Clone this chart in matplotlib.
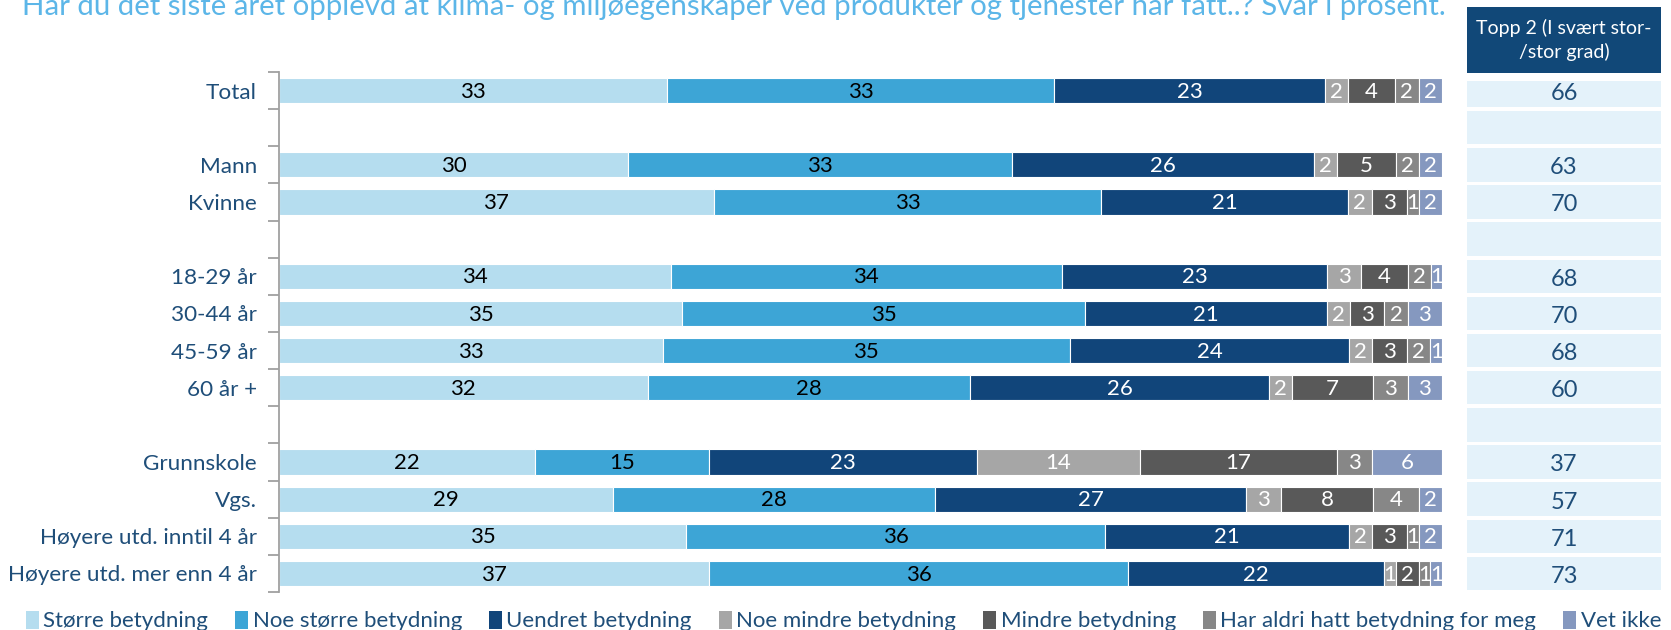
import matplotlib
matplotlib.use("Agg")
import matplotlib.pyplot as plt
from matplotlib.patches import Rectangle, Patch
import numpy as np

plt.rcParams['font.family'] = ['Lato', 'DejaVu Sans']

title = "Har du det siste året opplevd at klima- og miljøegenskaper ved produkter og tjenester har fått..? Svar i prosent."
series = ["Større betydning", "Noe større betydning", "Uendret betydning", "Noe mindre betydning",
          "Mindre betydning", "Har aldri hatt betydning for meg", "Vet ikke"]
colors = ["#B5DDEF", "#3DA5D6", "#11457A", "#A6A6A6", "#595959", "#878787", "#8598BF"]
label_colors = ["black", "black", "white", "white", "white", "white", "white"]

# groups of categories (a blank row separates groups)
groups = [
    ["Total"],
    ["Mann", "Kvinne"],
    ["18-29 år", "30-44 år", "45-59 år", "60 år +"],
    ["Grunnskole", "Vgs.", "Høyere utd. inntil 4 år", "Høyere utd. mer enn 4 år"],
]
values = {
    "Total":                    [33, 33, 23, 2, 4, 2, 2],
    "Mann":                     [30, 33, 26, 2, 5, 2, 2],
    "Kvinne":                   [37, 33, 21, 2, 3, 1, 2],
    "18-29 år":                 [34, 34, 23, 3, 4, 2, 1],
    "30-44 år":                 [35, 35, 21, 2, 3, 2, 3],
    "45-59 år":                 [33, 35, 24, 2, 3, 2, 1],
    "60 år +":                  [32, 28, 26, 2, 7, 3, 3],
    "Grunnskole":               [22, 15, 23, 14, 17, 3, 6],
    "Vgs.":                     [29, 28, 27, 3, 8, 4, 2],
    "Høyere utd. inntil 4 år":  [35, 36, 21, 2, 3, 1, 2],
    "Høyere utd. mer enn 4 år": [37, 36, 22, 1, 2, 1, 1],
}
top2 = {
    "Total": 66, "Mann": 63, "Kvinne": 70, "18-29 år": 68, "30-44 år": 70,
    "45-59 år": 68, "60 år +": 60, "Grunnskole": 37, "Vgs.": 57,
    "Høyere utd. inntil 4 år": 71, "Høyere utd. mer enn 4 år": 73,
}
top2_header = "Topp 2 (I svært stor-\n/stor grad)"

# build row list with blank separators
rows = []
for gi, g in enumerate(groups):
    if gi > 0:
        rows.append("")
    rows.extend(g)
n = len(rows)
ypos = np.arange(n)

text_blue = "#1F4E79"

fig = plt.figure(figsize=(16.71, 6.30), dpi=100)
ax = fig.add_axes([0.167, 0.0603, 0.696, 0.8254])

for yi, cat in enumerate(rows):
    if not cat:
        continue
    vals = np.array(values[cat], dtype=float)
    widths = vals / vals.sum() * 100
    left = 0.0
    for si, (w, v) in enumerate(zip(widths, vals)):
        ax.barh(yi, w, left=left, height=0.68, color=colors[si], edgecolor="white", linewidth=0.8)
        ax.text(left + w / 2, yi + 0.03, f"{int(v)}", ha="center", va="center",
                color=label_colors[si], fontsize=16)
        left += w

ax.set_xlim(0, 100)
ax.set_ylim(n - 0.5, -0.5)
ax.set_yticks(ypos)
ax.set_yticklabels(rows, fontsize=16.2, color=text_blue)
ax.tick_params(axis="y", which="major", length=0, pad=16)
ax.set_yticks(np.arange(-0.5, n, 1.0), minor=True)
ax.tick_params(axis="y", which="minor", length=8, width=1.3, color="#A0A0A0")
ax.set_xticks([])
for s in ["top", "right", "bottom"]:
    ax.spines[s].set_visible(False)
ax.spines["left"].set_color("#A0A0A0")
ax.spines["left"].set_linewidth(1.3)

# right-hand table
tx = fig.add_axes([0.878, 0.0603, 0.116, 0.8254])
tx.set_xlim(0, 1)
tx.set_ylim(n - 0.5, -0.5)
tx.axis("off")
for yi, cat in enumerate(rows):
    top = yi - 0.45
    if yi == 0:
        top = yi - 0.25
    tx.add_patch(Rectangle((0, top), 1, (yi + 0.45) - top, facecolor="#E4F2FA", edgecolor="none"))
    if cat:
        tx.text(0.5, yi + 0.08, f"{top2[cat]}", ha="center", va="center", fontsize=17, color=text_blue)

# header box
fig.patches.append(Rectangle((0.878, 1 - 73 / 630), 0.116, 66 / 630, transform=fig.transFigure,
                             facecolor="#114878", edgecolor="none"))
fig.text(0.936, 1 - 40 / 630, top2_header, ha="center", va="center", color="white",
         fontsize=14, linespacing=1.4)

# title (partially cut off at top as in the reference)
fig.text(0.013, 1 - 15 / 630, title, ha="left", va="baseline", color="#5CB6E8", fontsize=21.2)

# legend
handles = [Patch(facecolor=c, edgecolor="none") for c in colors]
leg = fig.legend(handles, series, loc="lower left", bbox_to_anchor=(0.006, -0.027), ncol=7,
                 frameon=False, fontsize=16, handlelength=0.6, handleheight=0.85,
                 handletextpad=0.2, columnspacing=1.2, borderpad=0.2)
for t in leg.get_texts():
    t.set_color(text_blue)

fig.savefig("out.png", dpi=100)
